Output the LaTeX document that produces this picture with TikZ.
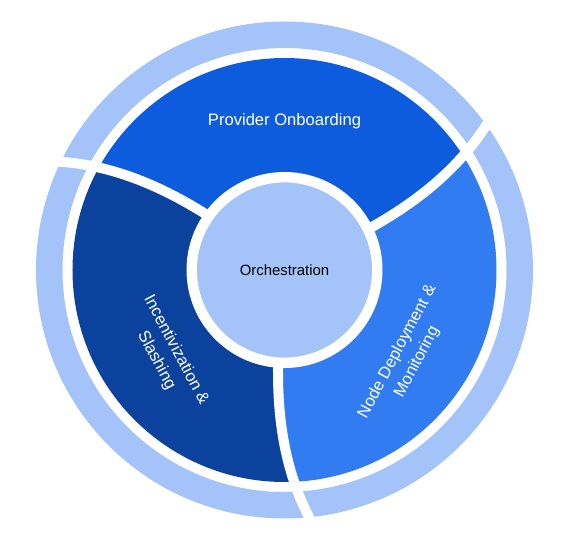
\documentclass[tikz,border=0pt]{standalone}
\usepackage{fontspec}
\setmainfont{Liberation Sans}
\usetikzlibrary{positioning}
\definecolor{OnboardBlue} {RGB}{ 14,  92, 222}
\definecolor{DeployBlue}  {RGB}{ 48, 124, 240}
\definecolor{SlashNavy}   {RGB}{ 11,  66, 158}
\definecolor{HubLight}    {RGB}{164, 195, 248}
\tikzset{
  % Coloured stage wedge
  stage/.style={
    fill=#1, draw=none
  },
  stage/.default=OnboardBlue,
  % Text placed on a stage
  stagelabel/.style={
    font=\fontsize{11.8}{15.8}\selectfont, text=white,
    align=center, inner sep=0pt
  },
  % Centre hub circle
  hub/.style={
    circle, fill=HubLight, draw=white, line width=0.26cm,
    minimum size=4.64cm, inner sep=0pt,
    font=\fontsize{10.6}{12}\selectfont, text=black
  },
  % Thin outer band
  outerband/.style={
    fill=HubLight, even odd rule
  },
  % White gap running between stages
  gapline/.style={
    draw=white, line width=0.25cm
  },
  % Sampling for the curved gaps
  sepplot/.style={
    variable=\rad, samples=40, smooth
  }
}

\begin{document}
\begin{tikzpicture}[declare function={twist(\q)=1.3*(\q-2.3)+0.3*(\q-2.3)^2;}]

  \useasboundingbox (-7.1125,-6.925) rectangle (7.0875,6.75);
  \coordinate (ctr) at (0,0);

  % ── STAGE WEDGES (clipped to the stage ring) ──────────────────────────────
  \begin{scope}
    \clip (ctr) circle (5.3);

    % Node Deployment & Monitoring
    \fill[stage=DeployBlue]
      (ctr) -- plot[sepplot, domain=2.3:6.45] ({-94+twist(\rad)}:\rad)
      arc[start angle={-94+twist(6.45)}, end angle={26+twist(6.45)}, radius=6.45]
      -- plot[sepplot, domain=6.45:2.3] ({26+twist(\rad)}:\rad) -- cycle;

    % Provider Onboarding
    \fill[stage=OnboardBlue]
      (ctr) -- plot[sepplot, domain=2.3:6.45] ({26+twist(\rad)}:\rad)
      arc[start angle={26+twist(6.45)}, end angle={144.5+twist(6.45)}, radius=6.45]
      -- plot[sepplot, domain=6.45:2.3] ({144.5+twist(\rad)}:\rad) -- cycle;

    % Incentivization & Slashing
    \fill[stage=SlashNavy]
      (ctr) -- plot[sepplot, domain=2.3:6.45] ({144.5+twist(\rad)}:\rad)
      arc[start angle={144.5+twist(6.45)}, end angle={266+twist(6.45)}, radius=6.45]
      -- plot[sepplot, domain=6.45:2.3] ({266+twist(\rad)}:\rad) -- cycle;
  \end{scope}

  % ── OUTER BAND ───────────────────────────────────────────────────────────
  \fill[outerband] (ctr) circle (6.2125) circle (5.55);

  % ── CURVED GAPS ──────────────────────────────────────────────────────────
  \foreach \a in {26, 144.5, -94}
    \draw[gapline] plot[sepplot, domain=2.3:6.6] ({\a+twist(\rad)}:\rad);

  % ── HUB ──────────────────────────────────────────────────────────────────
  \node[hub] (orch) at (ctr) {Orchestration};

  % ── LABELS ───────────────────────────────────────────────────────────────
  \node[stagelabel] (onboard_lbl) at (0,3.72) {Provider Onboarding};
  \node[stagelabel, rotate=62] (deploy_lbl) at (3.07,-2.17)
        {Node Deployment \&\\Monitoring};
  \node[stagelabel, rotate=-62] (slash_lbl) at (-2.96,-2.13)
        {Incentivization \&\\Slashing};

\end{tikzpicture}
\end{document}
